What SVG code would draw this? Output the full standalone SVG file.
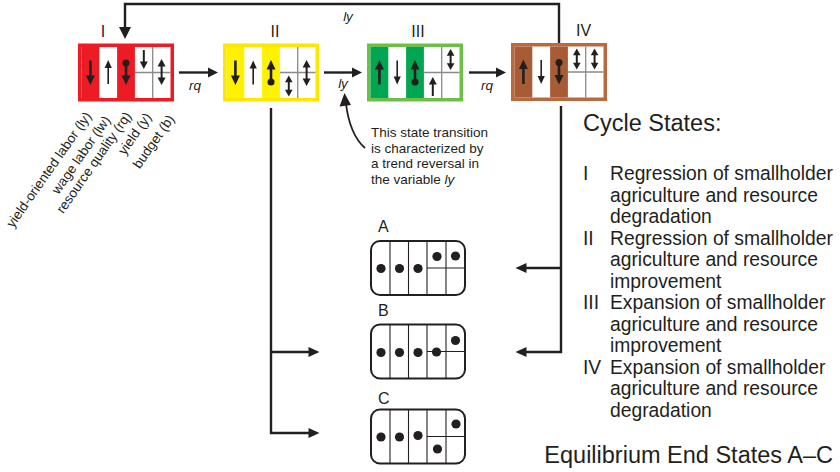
<svg xmlns="http://www.w3.org/2000/svg" xmlns:xlink="http://www.w3.org/1999/xlink" width="840" height="472" viewBox="0 0 840 472">
<style>
text{font-family:"Liberation Sans",Arial,sans-serif;fill:#231f20}
.it{font-style:italic}
.th{stroke:#231f20;stroke-width:2.6;fill:none}
.tn{stroke:#231f20;stroke-width:1.6;fill:none}
.tm{stroke:#231f20;stroke-width:2;fill:none}
.hd{fill:#231f20;stroke:none}
.grid{stroke:#8a8a8a;stroke-width:1.3;fill:none}
.conn{stroke:#231f20;stroke-width:2.4;fill:none}
.eb{fill:#fff;stroke:#231f20;stroke-width:2}
.el{stroke:#231f20;stroke-width:1.1;fill:none}
.dot{fill:#231f20}
.num{font-size:16px}
.leg{font-size:19.3px}
.ttl{font-size:23.5px}
.lab{font-size:13.5px}
.cal{font-size:13.5px}
</style>
<defs>
<g id="tD"><line class="th" x1="0" y1="-12" x2="0" y2="4"/><polygon class="hd" points="-4.5,3 4.5,3 0,12.5"/></g>
<g id="tU"><line class="th" x1="0" y1="12" x2="0" y2="-4"/><polygon class="hd" points="-4.5,-3 4.5,-3 0,-12.5"/></g>
<g id="nD"><line class="tn" x1="0" y1="-12" x2="0" y2="5"/><polygon class="hd" points="-3.6,4 3.6,4 0,12"/></g>
<g id="nU"><line class="tn" x1="0" y1="12" x2="0" y2="-5"/><polygon class="hd" points="-3.6,-4 3.6,-4 0,-12"/></g>
<g id="dD"><circle class="dot" cx="0" cy="-9.5" r="3.5"/><line class="th" x1="0" y1="-9.5" x2="0" y2="4"/><polygon class="hd" points="-4.5,3 4.5,3 0,12.5"/></g>
<g id="dU"><circle class="dot" cx="0" cy="9.5" r="3.5"/><line class="th" x1="0" y1="9.5" x2="0" y2="-4"/><polygon class="hd" points="-4.5,-3 4.5,-3 0,-12.5"/></g>
<g id="dL"><line class="tm" x1="0" y1="-7" x2="0" y2="7"/><polygon class="hd" points="-4,-5.5 4,-5.5 0,-13"/><polygon class="hd" points="-4,5.5 4,5.5 0,13"/></g>
<g id="dS"><line class="tm" x1="0" y1="-5" x2="0" y2="5"/><polygon class="hd" points="-3.8,-3.8 3.8,-3.8 0,-10.5"/><polygon class="hd" points="-3.8,3.8 3.8,3.8 0,10.5"/></g>
<g id="sD"><line class="tm" x1="0" y1="-9.5" x2="0" y2="3"/><polygon class="hd" points="-4,2 4,2 0,9.5"/></g>
<g id="sU"><line class="tm" x1="0" y1="9.5" x2="0" y2="-3"/><polygon class="hd" points="-4,-2 4,-2 0,-9.5"/></g>
</defs>
<rect width="840" height="472" fill="#fff"/>

<g id="connectors">
<path class="conn" d="M559,43 V4 H125 V28"/>
<polygon class="hd" points="119,27 131,27 125,39"/>
<path class="conn" d="M179,72.5 H209"/>
<polygon class="hd" points="208,67.5 208,77.5 218,72.5"/>
<path class="conn" d="M324,72.5 H353"/>
<polygon class="hd" points="352,67.5 352,77.5 362,72.5"/>
<path class="conn" d="M469,72.5 H497"/>
<polygon class="hd" points="496,67.5 496,77.5 506,72.5"/>
<path class="conn" d="M271,108 V433 H310"/>
<path class="conn" d="M271,352 H310"/>
<polygon class="hd" points="308.5,347 308.5,357 319.5,352"/>
<polygon class="hd" points="308.5,428 308.5,438 319.5,433"/>
<path class="conn" d="M561,106 V352 H525"/>
<path class="conn" d="M561,268 H525"/>
<polygon class="hd" points="526.5,263 526.5,273 515.5,268"/>
<polygon class="hd" points="526.5,347 526.5,357 515.5,352"/>
<path d="M365,148 Q350,135 346,104" stroke="#231f20" stroke-width="1.8" fill="none"/>
<polygon class="hd" points="344.5,93 339.5,106.5 351,105"/>
<text class="it" x="348" y="21" font-size="13.5" text-anchor="middle">ly</text>
<text class="it" x="195" y="90" font-size="13.5" text-anchor="middle">rq</text>
<text class="it" x="343" y="88" font-size="13.5" text-anchor="middle">ly</text>
<text class="it" x="487" y="90" font-size="13.5" text-anchor="middle">rq</text>
</g>

<g id="state-I">
<text class="num" x="103" y="37" text-anchor="middle">I</text>
<rect x="78" y="43.5" width="96" height="58" fill="#ed1c24"/>
<rect x="81.5" y="47" width="89" height="51" fill="#fff"/>
<rect x="81.5" y="47" width="17.8" height="51" fill="#ed1c24"/>
<rect x="117.1" y="47" width="17.8" height="51" fill="#ed1c24"/>
<path class="grid" d="M152.7,47 V98 M134.9,72.5 H170.5"/>
<use href="#tD" x="90.4" y="72.5"/>
<use href="#nU" x="108.2" y="72"/>
<use href="#dD" x="126" y="72.5"/>
<use href="#sD" x="143.8" y="59.5"/>
<use href="#dL" x="161.6" y="72"/>
</g>

<g id="state-II">
<text class="num" x="275" y="37" text-anchor="middle">II</text>
<rect x="223" y="43.5" width="96" height="58" fill="#ffe600"/>
<rect x="226.5" y="47" width="89" height="51" fill="#fff"/>
<rect x="226.5" y="47" width="17.8" height="51" fill="#fff200"/>
<rect x="262.1" y="47" width="17.8" height="51" fill="#fff200"/>
<path class="grid" d="M297.7,47 V98 M279.9,72.5 H315.5"/>
<use href="#tD" x="235.4" y="72.5"/>
<use href="#nU" x="253.2" y="72.5"/>
<use href="#dU" x="271" y="72.5"/>
<use href="#dS" x="288.8" y="86"/>
<use href="#dL" x="306.6" y="73"/>
</g>

<g id="state-III">
<text class="num" x="418" y="37" text-anchor="middle">III</text>
<rect x="367" y="43.5" width="96" height="58" fill="#6cbf4b"/>
<rect x="370.5" y="47" width="89" height="51" fill="#fff"/>
<rect x="370.5" y="47" width="17.8" height="51" fill="#00a651"/>
<rect x="406.1" y="47" width="17.8" height="51" fill="#00a651"/>
<path class="grid" d="M441.7,47 V98 M423.9,72.5 H459.5"/>
<use href="#tU" x="379.4" y="72.5"/>
<use href="#nD" x="397.2" y="72.5"/>
<use href="#dU" x="415" y="72.5"/>
<use href="#sU" x="432.8" y="86.5"/>
<use href="#dS" x="450.6" y="59.5"/>
</g>

<g id="state-IV">
<text class="num" x="583.5" y="36" text-anchor="middle">IV</text>
<rect x="511" y="43" width="96" height="58" fill="#b8693f"/>
<rect x="514.5" y="46.5" width="89" height="51" fill="#fff"/>
<rect x="514.5" y="46.5" width="17.8" height="51" fill="#a85c35"/>
<rect x="550.1" y="46.5" width="17.8" height="51" fill="#a85c35"/>
<path class="grid" d="M585.7,46.5 V97.5 M567.9,72 H603.5"/>
<use href="#tU" x="523.4" y="72"/>
<use href="#nD" x="541.2" y="72"/>
<use href="#dD" x="559" y="72"/>
<use href="#dS" x="576.8" y="59"/>
<use href="#dS" x="594.6" y="59"/>
</g>

<g id="variable-labels">
<text class="lab" text-anchor="end" transform="translate(92,116) rotate(-55)">yield-oriented labor (ly)</text>
<text class="lab" text-anchor="end" transform="translate(111,120) rotate(-55)">wage labor (lw)</text>
<text class="lab" text-anchor="end" transform="translate(132,116) rotate(-55)">resource quality (rq)</text>
<text class="lab" text-anchor="end" transform="translate(152,117) rotate(-55)">yield (y)</text>
<text class="lab" text-anchor="end" transform="translate(175,119) rotate(-55)">budget (b)</text>
</g>

<g id="callout">
<text class="cal" x="371" y="137">This state transition</text>
<text class="cal" x="371" y="152.5">is characterized by</text>
<text class="cal" x="371" y="168">a trend reversal in</text>
<text class="cal" x="371" y="183.5">the variable <tspan class="it">ly</tspan></text>
</g>

<g id="end-A">
<text class="num" x="378" y="232">A</text>
<rect class="eb" x="371" y="241" width="94" height="54" rx="9"/>
<path class="el" d="M390,241 V295 M408.5,241 V295 M427,241 V295 M446,241 V295 M427,268 H465"/>
<circle class="dot" cx="381" cy="268.5" r="4.6"/>
<circle class="dot" cx="399.5" cy="268.5" r="4.6"/>
<circle class="dot" cx="418" cy="268.5" r="4.6"/>
<circle class="dot" cx="437" cy="256.5" r="4.6"/>
<circle class="dot" cx="455.5" cy="256" r="4.6"/>
</g>

<g id="end-B">
<text class="num" x="378" y="316">B</text>
<rect class="eb" x="371" y="324.5" width="94" height="54" rx="9"/>
<path class="el" d="M390,324.5 V378.5 M408.5,324.5 V378.5 M427,324.5 V378.5 M446,324.5 V378.5 M427,351.5 H465"/>
<circle class="dot" cx="381" cy="352.5" r="4.6"/>
<circle class="dot" cx="399.5" cy="352.5" r="4.6"/>
<circle class="dot" cx="418" cy="352.5" r="4.6"/>
<circle class="dot" cx="436.5" cy="352" r="4.6"/>
<circle class="dot" cx="455.5" cy="340.5" r="4.6"/>
</g>

<g id="end-C">
<text class="num" x="378" y="404">C</text>
<rect class="eb" x="371" y="409.5" width="94" height="54" rx="9"/>
<path class="el" d="M390,409.5 V463.5 M408.5,409.5 V463.5 M427,409.5 V463.5 M446,409.5 V463.5 M427,436.5 H465"/>
<circle class="dot" cx="381" cy="437" r="4.6"/>
<circle class="dot" cx="399.5" cy="437" r="4.6"/>
<circle class="dot" cx="418" cy="435.5" r="4.6"/>
<circle class="dot" cx="437.5" cy="449" r="4.6"/>
<circle class="dot" cx="456" cy="424" r="4.6"/>
</g>

<g id="legend">
<text class="ttl" x="583" y="131">Cycle States:</text>
<text class="leg" x="583" y="180">I</text>
<text class="leg" x="610" y="180">Regression of smallholder</text>
<text class="leg" x="610" y="201.5">agriculture and resource</text>
<text class="leg" x="610" y="223">degradation</text>
<text class="leg" x="583" y="244.5">II</text>
<text class="leg" x="610" y="244.5">Regression of smallholder</text>
<text class="leg" x="610" y="266">agriculture and resource</text>
<text class="leg" x="610" y="287.5">improvement</text>
<text class="leg" x="583" y="309">III</text>
<text class="leg" x="610" y="309">Expansion of smallholder</text>
<text class="leg" x="610" y="330.5">agriculture and resource</text>
<text class="leg" x="610" y="352">improvement</text>
<text class="leg" x="583" y="373.5">IV</text>
<text class="leg" x="610" y="373.5">Expansion of smallholder</text>
<text class="leg" x="610" y="395">agriculture and resource</text>
<text class="leg" x="610" y="416.5">degradation</text>
<text class="ttl" x="833" y="463" text-anchor="end">Equilibrium End States A–C</text>
</g>
</svg>
